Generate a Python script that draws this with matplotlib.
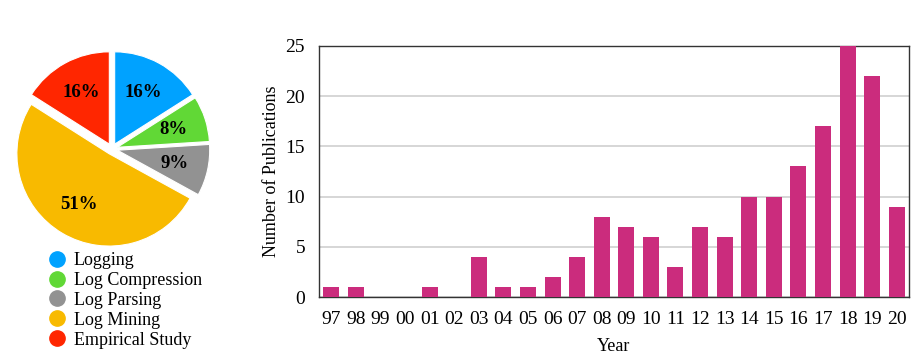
import matplotlib
matplotlib.use("Agg")
import matplotlib.pyplot as plt
from matplotlib.lines import Line2D

plt.rcParams['font.family'] = ['Liberation Serif', 'DejaVu Serif']

# Pie data
pie_labels = ["Logging", "Log Compression", "Log Parsing", "Log Mining", "Empirical Study"]
pie_values = [16, 8, 9, 51, 16]
pie_colors = ["#00A2FF", "#61D836", "#929292", "#F8BA00", "#FF2600"]

# Bar data
years = ["97", "98", "99", "00", "01", "02", "03", "04", "05", "06", "07", "08",
         "09", "10", "11", "12", "13", "14", "15", "16", "17", "18", "19", "20"]
pubs = [1, 1, 0, 0, 1, 0, 4, 1, 1, 2, 4, 8, 7, 6, 3, 7, 6, 10, 10, 13, 17, 25, 22, 9]
bar_color = "#CB2C7D"

W, H = 919, 359
fig = plt.figure(figsize=(W / 100, H / 100), dpi=100)

# Pie
size_px = 216
cx, cy = 112, 149
axp = fig.add_axes([(cx - size_px / 2) / W, 1 - (cy + size_px / 2) / H, size_px / W, size_px / H])
wedges, texts, autotexts = axp.pie(
    pie_values, colors=pie_colors, startangle=90, counterclock=False,
    explode=[0.06] * len(pie_values), autopct=lambda p: f"{p:.0f}%",
    pctdistance=0.64, wedgeprops=dict(edgecolor="white", linewidth=0.8),
    textprops=dict(fontsize=13.5, fontweight="bold", color="black"))
axp.set_xlim(-1.17, 1.17)
axp.set_ylim(-1.17, 1.17)
axp.set_aspect("equal")
axp.axis("off")

handles = [Line2D([0], [0], marker="o", linestyle="none", markersize=11,
                  markerfacecolor=c, markeredgecolor=c) for c in pie_colors]
fig.legend(handles, pie_labels, loc="upper left", bbox_to_anchor=(46 / W, 1 - 252 / H),
           frameon=False, fontsize=13, labelspacing=0.16, handletextpad=0.35,
           borderaxespad=0, borderpad=0, handlelength=1.2)

# Bars
axb = fig.add_axes([319 / W, 1 - 297 / H, (909 - 319) / W, (297 - 46) / H])
x = list(range(len(years)))
axb.bar(x, pubs, width=0.65, color=bar_color, zorder=3)
axb.set_xlim(-0.5, len(years) - 0.5)
axb.set_ylim(0, 25)
axb.set_yticks([0, 5, 10, 15, 20, 25])
axb.set_xticks(x)
axb.set_xticklabels(years)
axb.tick_params(axis="both", length=0, labelsize=14)
axb.tick_params(axis="x", pad=10)
axb.tick_params(axis="y", pad=10)
axb.yaxis.grid(True, color="#D0D0D0", linewidth=1.2, zorder=0)
for s in axb.spines.values():
    s.set_color("#333333")
    s.set_linewidth(1.0)
axb.set_ylabel("Number of Publications", fontsize=13, labelpad=4)
axb.set_xlabel("Year", fontsize=13, labelpad=7.5)

fig.savefig("out.png", dpi=100)
